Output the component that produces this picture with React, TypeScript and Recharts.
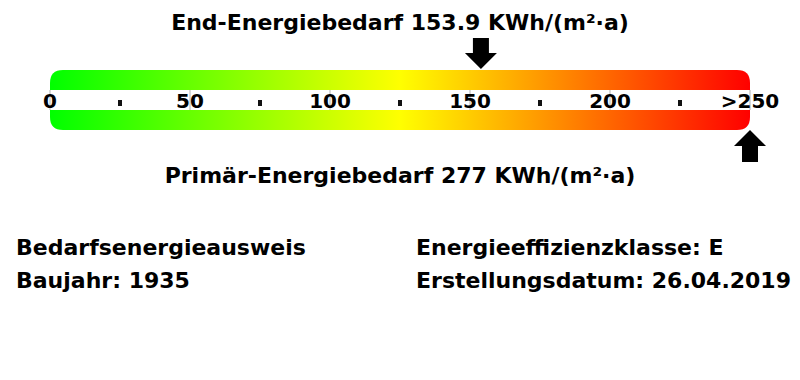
import React from 'react';
import { ComposedChart, XAxis, YAxis, ReferenceArea, ReferenceDot } from 'recharts';

const scaleMin = 0;
const scaleMax = 250;
const majorTicks = [0, 50, 100, 150, 200, 250];
const majorLabels = ['0', '50', '100', '150', '200', '>250'];
const minorTicks = [25, 75, 125, 175, 225];
const endEnergy = 153.9;
const primaryEnergy = 277;
const unit = 'KWh/(m²·a)';
const endTitle = 'End-Energiebedarf';
const primaryTitle = 'Primär-Energiebedarf';
const infoLeft = ['Bedarfsenergieausweis', 'Baujahr: 1935'];
const infoRight = ['Energieeffizienzklasse: E', 'Erstellungsdatum: 26.04.2019'];
const gradientStops = [
  { offset: '0%', color: '#00ff00' },
  { offset: '50%', color: '#ffff00' },
  { offset: '100%', color: '#ff0000' },
];

const W = 800;
const H = 380;
const FONT = '"DejaVu Sans", Verdana, sans-serif';

const chartData = majorTicks.map((v) => ({ v }));

const BarShape = (props: any) => {
  const { x, y, width, height } = props;
  const r = 13;
  const x2 = x + width;
  const y2 = y + height;
  const d = `M${x + r},${y} L${x2 - r},${y} Q${x2},${y} ${x2},${y + r} L${x2},${y2 - r} Q${x2},${y2} ${x2 - r},${y2} L${x + r},${y2} Q${x},${y2} ${x},${y2 - r} L${x},${y + r} Q${x},${y} ${x + r},${y} Z`;
  return (
    <g>
      <defs>
        <linearGradient id="energyGrad" x1="0" y1="0" x2="1" y2="0">
          {gradientStops.map((s) => (
            <stop key={s.offset} offset={s.offset} stopColor={s.color} />
          ))}
        </linearGradient>
      </defs>
      <path d={d} fill="url(#energyGrad)" />
    </g>
  );
};

const BandShape = (props: any) => {
  const { x, y, width, height } = props;
  return <rect x={x - 1} y={y} width={width + 2} height={height} fill="#ffffff" />;
};

const makeMajorShape = (label: string) => (props: any) => {
  const { cx, cy } = props;
  return (
    <g>
      <line x1={cx} y1={cy - 10} x2={cx} y2={cy + 10} stroke="#b0b0b0" strokeWidth={1} />
      <text
        x={cx}
        y={cy + 8}
        textAnchor="middle"
        fontFamily={FONT}
        fontWeight="bold"
        fontSize={20}
        fill="#000"
      >
        {label}
      </text>
    </g>
  );
};

const MinorShape = (props: any) => {
  const { cx, cy } = props;
  return <rect x={cx - 2} y={cy} width={4} height={6} fill="#111" />;
};

const DownArrow = (props: any) => {
  const { cx, cy } = props;
  const pts = [
    [cx - 8, cy - 31],
    [cx + 8, cy - 31],
    [cx + 8, cy - 16],
    [cx + 16, cy - 16],
    [cx, cy],
    [cx - 16, cy - 16],
    [cx - 8, cy - 16],
  ]
    .map((p) => p.join(','))
    .join(' ');
  return <polygon points={pts} fill="#000" />;
};

const UpArrow = (props: any) => {
  const { cx, cy } = props;
  const pts = [
    [cx, cy],
    [cx + 16, cy + 16],
    [cx + 8, cy + 16],
    [cx + 8, cy + 32],
    [cx - 8, cy + 32],
    [cx - 8, cy + 16],
    [cx - 16, cy + 16],
  ]
    .map((p) => p.join(','))
    .join(' ');
  return <polygon points={pts} fill="#000" />;
};

const clamp = (v: number) => Math.max(scaleMin, Math.min(scaleMax, v));

export default function App() {
  const textStyle = { fontFamily: FONT, fontWeight: 'bold' as const, fontSize: 22 };
  return (
    <div style={{ position: 'relative', width: W, height: H, background: '#fff' }}>
      <style>{'body{margin:0;background:#fff}'}</style>
      <ComposedChart
        width={W}
        height={H}
        data={chartData}
        margin={{ top: 0, right: 50, bottom: 0, left: 50 }}
      >
        <XAxis dataKey="v" type="number" domain={[scaleMin, scaleMax]} hide allowDataOverflow />
        <YAxis type="number" domain={[0, H]} reversed hide allowDataOverflow />
        <ReferenceArea
          x1={scaleMin}
          x2={scaleMax}
          y1={70}
          y2={130}
          shape={BarShape}
          ifOverflow="visible"
        />
        <ReferenceArea
          x1={scaleMin}
          x2={scaleMax}
          y1={90}
          y2={110}
          shape={BandShape}
          ifOverflow="visible"
        />
        {majorTicks.map((v, i) => (
          <ReferenceDot
            key={'maj' + v}
            x={v}
            y={100}
            r={1}
            shape={makeMajorShape(majorLabels[i])}
            ifOverflow="visible"
          />
        ))}
        {minorTicks.map((v) => (
          <ReferenceDot key={'min' + v} x={v} y={100} r={1} shape={MinorShape} ifOverflow="visible" />
        ))}
        <ReferenceDot x={clamp(endEnergy)} y={69} r={1} shape={DownArrow} ifOverflow="visible" />
        <ReferenceDot x={clamp(primaryEnergy)} y={130} r={1} shape={UpArrow} ifOverflow="visible" />
      </ComposedChart>
      <svg
        width={W}
        height={H}
        style={{ position: 'absolute', left: 0, top: 0, pointerEvents: 'none' }}
      >
        <text x={400} y={30} textAnchor="middle" {...textStyle}>
          {`${endTitle} ${endEnergy} ${unit}`}
        </text>
        <text x={400} y={183} textAnchor="middle" {...textStyle}>
          {`${primaryTitle} ${primaryEnergy} ${unit}`}
        </text>
        {infoLeft.map((t, i) => (
          <text key={t} x={16} y={255 + i * 33} {...textStyle}>
            {t}
          </text>
        ))}
        {infoRight.map((t, i) => (
          <text key={t} x={416} y={255 + i * 33} {...textStyle}>
            {t}
          </text>
        ))}
      </svg>
    </div>
  );
}
